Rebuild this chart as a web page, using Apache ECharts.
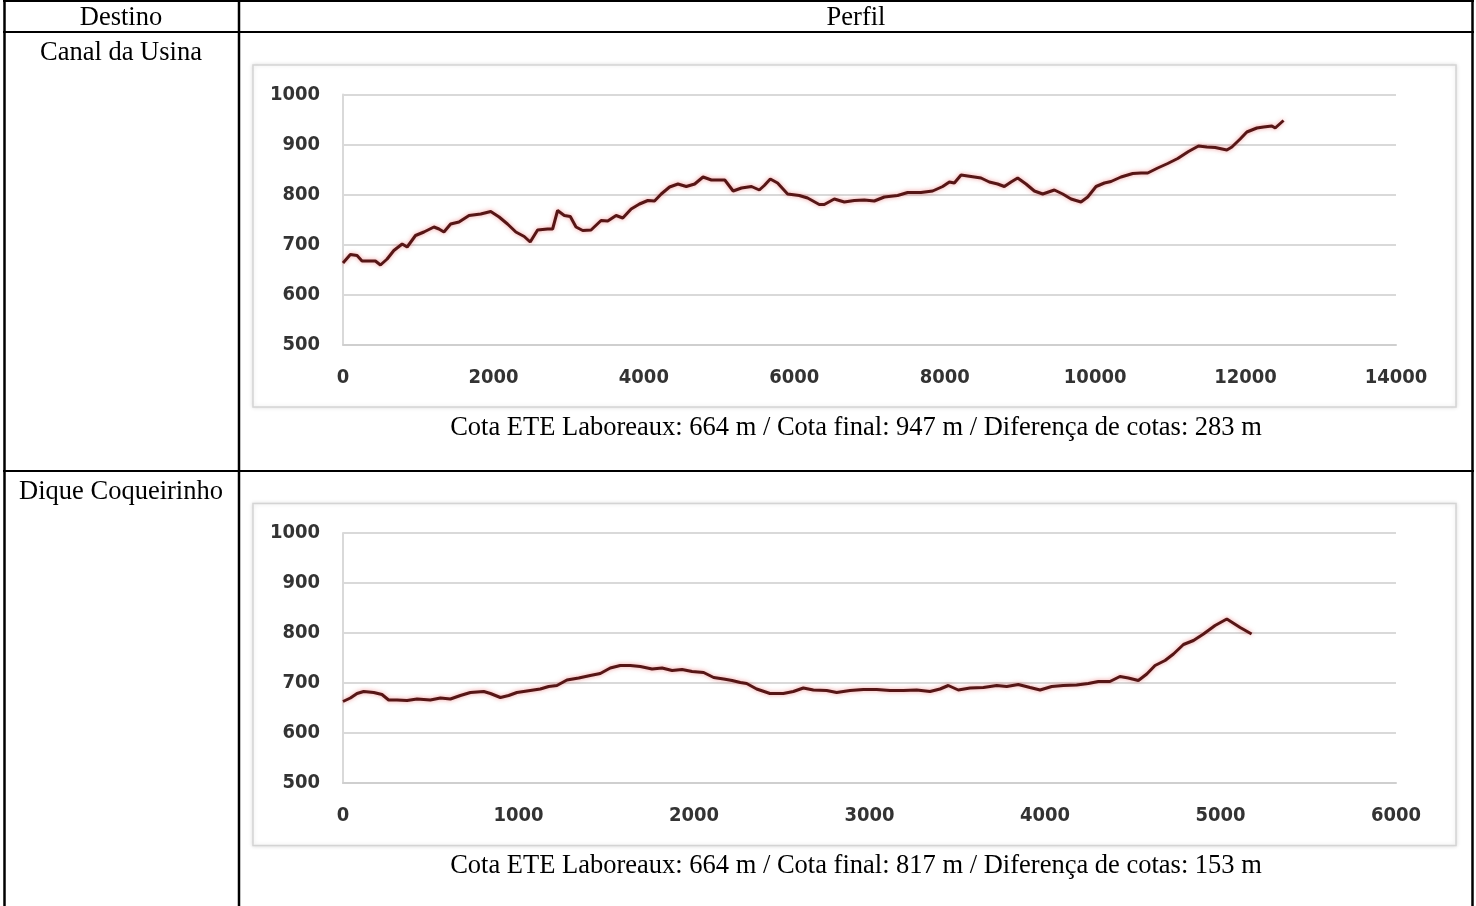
<!DOCTYPE html>
<html>
<head>
<meta charset="utf-8">
<script src="https://cdn.jsdelivr.net/npm/echarts@6/dist/echarts.min.js"></script>
<style>
    html, body { margin: 0; padding: 0; background: #fff; }
    #chart { width: 1476px; height: 906px; }
</style>
</head>
<body>
<div id="chart"></div>
<script>
// Canal da Usina profile (distance m, elevation m)
const usinaDist = [0, 98, 187, 253, 320, 431, 498, 587, 676, 787, 853, 964, 1076, 1209, 1276, 1342, 1431, 1542, 1676, 1831,
    1964, 2076, 2187, 2298, 2409, 2489, 2587, 2720, 2787, 2853, 2942, 3022, 3098, 3187, 3298, 3431, 3520, 3631, 3720, 3831,
    3942, 4053, 4142, 4231, 4342, 4453, 4564, 4676, 4787, 4898, 5076, 5187, 5298, 5431, 5535, 5601, 5681, 5778, 5911, 6066,
    6177, 6332, 6399, 6532, 6665, 6798, 6931, 7064, 7197, 7374, 7507, 7684, 7840, 7973, 8062, 8128, 8217, 8350, 8483, 8593,
    8704, 8793, 8882, 8970, 9081, 9192, 9303, 9458, 9569, 9680, 9812, 9901, 10012, 10123, 10211, 10344, 10500, 10610, 10699, 10832,
    10965, 11098, 11241, 11374, 11485, 11596, 11751, 11818, 11928, 12017, 12150, 12239, 12350, 12394, 12438, 12505];
const usinaCota = [663, 680, 678, 667, 667, 667, 659, 671, 688, 701, 695, 718, 725, 735, 731, 725, 741, 745, 758, 761,
    766, 755, 741, 725, 716, 705, 729, 731, 731, 768, 758, 756, 735, 728, 729, 748, 747, 758, 753, 771,
    781, 788, 787, 801, 815, 821, 816, 821, 835, 829, 829, 807, 813, 816, 809, 818, 831, 823, 801, 798,
    793, 780, 780, 791, 785, 788, 789, 787, 795, 798, 804, 804, 807, 816, 825, 823, 839, 836, 833, 825,
    821, 816, 825, 833, 821, 807, 801, 809, 801, 791, 785, 795, 816, 823, 826, 835, 842, 843, 843, 853,
    862, 872, 886, 897, 895, 894, 889, 895, 911, 925, 933, 935, 937, 933, 939, 948];

// Dique Coqueirinho profile
const coqDist = [0, 42, 80, 118, 175, 222, 260, 308, 365, 422, 498, 555, 612, 669, 726, 802, 840, 897, 944, 991,
    1067, 1124, 1172, 1219, 1276, 1343, 1409, 1466, 1523, 1580, 1637, 1694, 1761, 1818, 1875, 1932, 1989, 2055, 2112, 2169,
    2217, 2264, 2300, 2357, 2433, 2509, 2566, 2623, 2680, 2756, 2813, 2889, 2965, 3041, 3117, 3193, 3269, 3345, 3402, 3449,
    3506, 3573, 3649, 3725, 3782, 3848, 3915, 3972, 4038, 4104, 4180, 4247, 4304, 4370, 4427, 4475, 4532, 4580, 4627, 4684,
    4732, 4789, 4846, 4903, 4969, 5036, 5112, 5177];
const coqCota = [663, 670, 679, 683, 681, 677, 666, 666, 665, 668, 666, 670, 668, 675, 681, 683, 679, 671, 675, 681,
    685, 688, 693, 695, 706, 710, 715, 719, 730, 735, 735, 733, 728, 730, 725, 727, 723, 721, 711, 708,
    705, 701, 699, 688, 679, 679, 683, 690, 686, 685, 681, 685, 687, 687, 685, 685, 686, 683, 688, 695,
    686, 690, 691, 695, 693, 697, 691, 686, 693, 695, 696, 699, 703, 703, 713, 710, 705, 718, 735, 745,
    758, 777, 785, 798, 815, 828, 811, 798];

const headers = ['Destino', 'Perfil'];
const destinos = ['Canal da Usina', 'Dique Coqueirinho'];
const legendas = [
    'Cota ETE Laboreaux: 664 m / Cota final: 947 m / Diferença de cotas: 283 m',
    'Cota ETE Laboreaux: 664 m / Cota final: 817 m / Diferença de cotas: 153 m'
];

const myChart = echarts.init(document.getElementById('chart'));

const serif = '26.5px "Liberation Serif", "Times New Roman", serif';
const tickFont = '"DejaVu Sans Condensed", "DejaVu Sans", sans-serif';
const gridColor = '#d9d9d9';
const rowShift = 438.5;

function pairs(xs, ys) {
    return xs.map((x, i) => [x, ys[i]]);
}

// plain numbers, no thousands separator
const plain = (v) => String(v);

function xAxisFor(idx, max, interval) {
    return {
        type: 'value', gridIndex: idx, min: 0, max: max, interval: interval,
        axisLine: { show: true, lineStyle: { color: '#cfcfcf', width: 2 } },
        axisTick: { show: false },
        splitLine: { show: false },
        axisLabel: {
            margin: 23, color: '#333', fontSize: 20, fontWeight: 'bold',
            fontFamily: tickFont, formatter: plain
        }
    };
}

function yAxisFor(idx) {
    return {
        type: 'value', gridIndex: idx, min: 500, max: 1000, interval: 100,
        axisLine: { show: true, lineStyle: { color: gridColor, width: 2 } },
        axisTick: { show: false },
        splitLine: { show: true, lineStyle: { color: gridColor, width: 2 } },
        axisLabel: {
            margin: 23, color: '#333', fontSize: 20, fontWeight: 'bold',
            fontFamily: tickFont, formatter: plain
        }
    };
}

function seriesFor(idx, data) {
    return {
        type: 'line', xAxisIndex: idx, yAxisIndex: idx, data: data,
        symbol: 'none', smooth: false, silent: true,
        lineStyle: {
            color: '#561616', width: 3,
            shadowColor: 'rgba(230, 50, 50, 0.5)', shadowBlur: 4
        }
    };
}

// table lines + chart cards + texts
const graphics = [];
function hline(y, x1, x2) {
    graphics.push({ type: 'line', shape: { x1: x1, y1: y, x2: x2, y2: y }, style: { stroke: '#000', lineWidth: 2 }, z: 10 });
}
function vline(x, y1, y2) {
    graphics.push({ type: 'line', shape: { x1: x, y1: y1, x2: x, y2: y2 }, style: { stroke: '#000', lineWidth: 2.5 }, z: 10 });
}
function label(text, x, y) {
    graphics.push({
        type: 'text', x: x, y: y, z: 10,
        style: { text: text, font: serif, fill: '#000', textAlign: 'center', textVerticalAlign: 'middle' }
    });
}

hline(1, 3, 1474);
hline(32, 3, 1474);
hline(471, 3, 1474);
vline(4.5, 0, 906);
vline(239, 0, 906);
vline(1472.5, 0, 906);

label(headers[0], 121, 18);
label(headers[1], 856, 18);

for (let i = 0; i < 2; i++) {
    const off = i * rowShift;
    graphics.push({
        type: 'rect', z: -10,
        shape: { x: 253, y: 65 + off, width: 1203, height: 342 },
        style: { fill: '#fff', stroke: '#d4d4d4', lineWidth: 1.5, shadowColor: 'rgba(0,0,0,0.12)', shadowBlur: 4 }
    });
    label(destinos[i], 121, 53.5 + off);
    label(legendas[i], 856, 428 + off);
}

myChart.setOption({
    backgroundColor: '#fff',
    animation: false,
    grid: [
        { left: 343, top: 94.5, width: 1053, height: 250 },
        { left: 343, top: 94.5 + rowShift, width: 1053, height: 250 }
    ],
    xAxis: [xAxisFor(0, 14000, 2000), xAxisFor(1, 6000, 1000)],
    yAxis: [yAxisFor(0), yAxisFor(1)],
    series: [
        seriesFor(0, pairs(usinaDist, usinaCota)),
        seriesFor(1, pairs(coqDist, coqCota))
    ],
    graphic: graphics
});
</script>
</body>
</html>
